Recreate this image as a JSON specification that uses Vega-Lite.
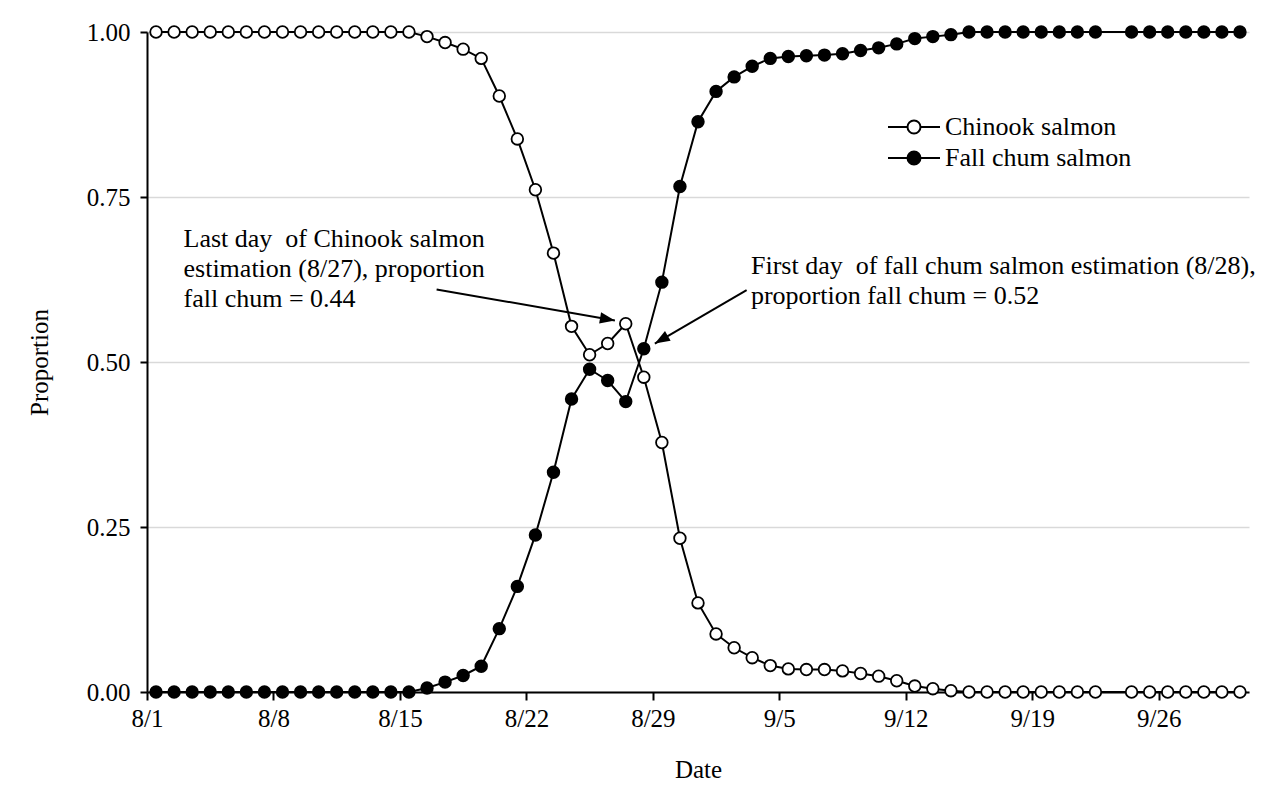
{
  "$schema": "https://vega.github.io/schema/vega-lite/v6.json",
  "width": 1102,
  "height": 660,
  "autosize": {"type": "none"},
  "padding": {"left": 147, "top": 32, "right": 32, "bottom": 117},
  "background": "white",
  "config": {
    "view": {"stroke": null},
    "font": "Liberation Serif",
    "axis": {
      "labelFont": "Liberation Serif",
      "labelFontSize": 25,
      "labelColor": "black",
      "titleFont": "Liberation Serif",
      "titleFontSize": 25,
      "titleFontWeight": "normal",
      "titleColor": "black",
      "domainColor": "black",
      "domainWidth": 2,
      "tickColor": "black",
      "tickWidth": 2
    }
  },
  "datasets": {
    "proportions": [
      {"date": "2019-08-01", "series": "Chinook salmon", "p": 1.0},
      {"date": "2019-08-02", "series": "Chinook salmon", "p": 1.0},
      {"date": "2019-08-03", "series": "Chinook salmon", "p": 1.0},
      {"date": "2019-08-04", "series": "Chinook salmon", "p": 1.0},
      {"date": "2019-08-05", "series": "Chinook salmon", "p": 1.0},
      {"date": "2019-08-06", "series": "Chinook salmon", "p": 1.0},
      {"date": "2019-08-07", "series": "Chinook salmon", "p": 1.0},
      {"date": "2019-08-08", "series": "Chinook salmon", "p": 1.0},
      {"date": "2019-08-09", "series": "Chinook salmon", "p": 1.0},
      {"date": "2019-08-10", "series": "Chinook salmon", "p": 1.0},
      {"date": "2019-08-11", "series": "Chinook salmon", "p": 1.0},
      {"date": "2019-08-12", "series": "Chinook salmon", "p": 1.0},
      {"date": "2019-08-13", "series": "Chinook salmon", "p": 1.0},
      {"date": "2019-08-14", "series": "Chinook salmon", "p": 1.0},
      {"date": "2019-08-15", "series": "Chinook salmon", "p": 1.0},
      {"date": "2019-08-16", "series": "Chinook salmon", "p": 0.993},
      {"date": "2019-08-17", "series": "Chinook salmon", "p": 0.984},
      {"date": "2019-08-18", "series": "Chinook salmon", "p": 0.974},
      {"date": "2019-08-19", "series": "Chinook salmon", "p": 0.96},
      {"date": "2019-08-20", "series": "Chinook salmon", "p": 0.903},
      {"date": "2019-08-21", "series": "Chinook salmon", "p": 0.838},
      {"date": "2019-08-22", "series": "Chinook salmon", "p": 0.761},
      {"date": "2019-08-23", "series": "Chinook salmon", "p": 0.665},
      {"date": "2019-08-24", "series": "Chinook salmon", "p": 0.554},
      {"date": "2019-08-25", "series": "Chinook salmon", "p": 0.511},
      {"date": "2019-08-26", "series": "Chinook salmon", "p": 0.528},
      {"date": "2019-08-27", "series": "Chinook salmon", "p": 0.558},
      {"date": "2019-08-28", "series": "Chinook salmon", "p": 0.477},
      {"date": "2019-08-29", "series": "Chinook salmon", "p": 0.378},
      {"date": "2019-08-30", "series": "Chinook salmon", "p": 0.233},
      {"date": "2019-08-31", "series": "Chinook salmon", "p": 0.135},
      {"date": "2019-09-01", "series": "Chinook salmon", "p": 0.088},
      {"date": "2019-09-02", "series": "Chinook salmon", "p": 0.067},
      {"date": "2019-09-03", "series": "Chinook salmon", "p": 0.052},
      {"date": "2019-09-04", "series": "Chinook salmon", "p": 0.04},
      {"date": "2019-09-05", "series": "Chinook salmon", "p": 0.035},
      {"date": "2019-09-06", "series": "Chinook salmon", "p": 0.034},
      {"date": "2019-09-07", "series": "Chinook salmon", "p": 0.034},
      {"date": "2019-09-08", "series": "Chinook salmon", "p": 0.032},
      {"date": "2019-09-09", "series": "Chinook salmon", "p": 0.028},
      {"date": "2019-09-10", "series": "Chinook salmon", "p": 0.024},
      {"date": "2019-09-11", "series": "Chinook salmon", "p": 0.017},
      {"date": "2019-09-12", "series": "Chinook salmon", "p": 0.009},
      {"date": "2019-09-13", "series": "Chinook salmon", "p": 0.005},
      {"date": "2019-09-14", "series": "Chinook salmon", "p": 0.002},
      {"date": "2019-09-15", "series": "Chinook salmon", "p": 0.0},
      {"date": "2019-09-16", "series": "Chinook salmon", "p": 0.0},
      {"date": "2019-09-17", "series": "Chinook salmon", "p": 0.0},
      {"date": "2019-09-18", "series": "Chinook salmon", "p": 0.0},
      {"date": "2019-09-19", "series": "Chinook salmon", "p": 0.0},
      {"date": "2019-09-20", "series": "Chinook salmon", "p": 0.0},
      {"date": "2019-09-21", "series": "Chinook salmon", "p": 0.0},
      {"date": "2019-09-22", "series": "Chinook salmon", "p": 0.0},
      {"date": "2019-09-24", "series": "Chinook salmon", "p": 0.0},
      {"date": "2019-09-25", "series": "Chinook salmon", "p": 0.0},
      {"date": "2019-09-26", "series": "Chinook salmon", "p": 0.0},
      {"date": "2019-09-27", "series": "Chinook salmon", "p": 0.0},
      {"date": "2019-09-28", "series": "Chinook salmon", "p": 0.0},
      {"date": "2019-09-29", "series": "Chinook salmon", "p": 0.0},
      {"date": "2019-09-30", "series": "Chinook salmon", "p": 0.0},
      {"date": "2019-08-01", "series": "Fall chum salmon", "p": 0.0},
      {"date": "2019-08-02", "series": "Fall chum salmon", "p": 0.0},
      {"date": "2019-08-03", "series": "Fall chum salmon", "p": 0.0},
      {"date": "2019-08-04", "series": "Fall chum salmon", "p": 0.0},
      {"date": "2019-08-05", "series": "Fall chum salmon", "p": 0.0},
      {"date": "2019-08-06", "series": "Fall chum salmon", "p": 0.0},
      {"date": "2019-08-07", "series": "Fall chum salmon", "p": 0.0},
      {"date": "2019-08-08", "series": "Fall chum salmon", "p": 0.0},
      {"date": "2019-08-09", "series": "Fall chum salmon", "p": 0.0},
      {"date": "2019-08-10", "series": "Fall chum salmon", "p": 0.0},
      {"date": "2019-08-11", "series": "Fall chum salmon", "p": 0.0},
      {"date": "2019-08-12", "series": "Fall chum salmon", "p": 0.0},
      {"date": "2019-08-13", "series": "Fall chum salmon", "p": 0.0},
      {"date": "2019-08-14", "series": "Fall chum salmon", "p": 0.0},
      {"date": "2019-08-15", "series": "Fall chum salmon", "p": 0.0},
      {"date": "2019-08-16", "series": "Fall chum salmon", "p": 0.006},
      {"date": "2019-08-17", "series": "Fall chum salmon", "p": 0.015},
      {"date": "2019-08-18", "series": "Fall chum salmon", "p": 0.025},
      {"date": "2019-08-19", "series": "Fall chum salmon", "p": 0.039},
      {"date": "2019-08-20", "series": "Fall chum salmon", "p": 0.096},
      {"date": "2019-08-21", "series": "Fall chum salmon", "p": 0.16},
      {"date": "2019-08-22", "series": "Fall chum salmon", "p": 0.238},
      {"date": "2019-08-23", "series": "Fall chum salmon", "p": 0.333},
      {"date": "2019-08-24", "series": "Fall chum salmon", "p": 0.444},
      {"date": "2019-08-25", "series": "Fall chum salmon", "p": 0.489},
      {"date": "2019-08-26", "series": "Fall chum salmon", "p": 0.472},
      {"date": "2019-08-27", "series": "Fall chum salmon", "p": 0.44},
      {"date": "2019-08-28", "series": "Fall chum salmon", "p": 0.52},
      {"date": "2019-08-29", "series": "Fall chum salmon", "p": 0.621},
      {"date": "2019-08-30", "series": "Fall chum salmon", "p": 0.766},
      {"date": "2019-08-31", "series": "Fall chum salmon", "p": 0.864},
      {"date": "2019-09-01", "series": "Fall chum salmon", "p": 0.91},
      {"date": "2019-09-02", "series": "Fall chum salmon", "p": 0.932},
      {"date": "2019-09-03", "series": "Fall chum salmon", "p": 0.948},
      {"date": "2019-09-04", "series": "Fall chum salmon", "p": 0.96},
      {"date": "2019-09-05", "series": "Fall chum salmon", "p": 0.963},
      {"date": "2019-09-06", "series": "Fall chum salmon", "p": 0.964},
      {"date": "2019-09-07", "series": "Fall chum salmon", "p": 0.965},
      {"date": "2019-09-08", "series": "Fall chum salmon", "p": 0.967},
      {"date": "2019-09-09", "series": "Fall chum salmon", "p": 0.972},
      {"date": "2019-09-10", "series": "Fall chum salmon", "p": 0.976},
      {"date": "2019-09-11", "series": "Fall chum salmon", "p": 0.982},
      {"date": "2019-09-12", "series": "Fall chum salmon", "p": 0.99},
      {"date": "2019-09-13", "series": "Fall chum salmon", "p": 0.993},
      {"date": "2019-09-14", "series": "Fall chum salmon", "p": 0.996},
      {"date": "2019-09-15", "series": "Fall chum salmon", "p": 1.0},
      {"date": "2019-09-16", "series": "Fall chum salmon", "p": 1.0},
      {"date": "2019-09-17", "series": "Fall chum salmon", "p": 1.0},
      {"date": "2019-09-18", "series": "Fall chum salmon", "p": 1.0},
      {"date": "2019-09-19", "series": "Fall chum salmon", "p": 1.0},
      {"date": "2019-09-20", "series": "Fall chum salmon", "p": 1.0},
      {"date": "2019-09-21", "series": "Fall chum salmon", "p": 1.0},
      {"date": "2019-09-22", "series": "Fall chum salmon", "p": 1.0},
      {"date": "2019-09-24", "series": "Fall chum salmon", "p": 1.0},
      {"date": "2019-09-25", "series": "Fall chum salmon", "p": 1.0},
      {"date": "2019-09-26", "series": "Fall chum salmon", "p": 1.0},
      {"date": "2019-09-27", "series": "Fall chum salmon", "p": 1.0},
      {"date": "2019-09-28", "series": "Fall chum salmon", "p": 1.0},
      {"date": "2019-09-29", "series": "Fall chum salmon", "p": 1.0},
      {"date": "2019-09-30", "series": "Fall chum salmon", "p": 1.0}
    ]
  },
  "encoding": {
    "x": {
      "field": "date",
      "type": "temporal",
      "title": "Date",
      "scale": {
        "type": "utc",
        "domain": [
          {"year": 2019, "month": 7, "date": 31, "hours": 12, "utc": true},
          {"year": 2019, "month": 9, "date": 30, "hours": 12, "utc": true}
        ]
      },
      "axis": {
        "values": [
          {"year": 2019, "month": 8, "date": 1, "utc": true},
          {"year": 2019, "month": 8, "date": 8, "utc": true},
          {"year": 2019, "month": 8, "date": 15, "utc": true},
          {"year": 2019, "month": 8, "date": 22, "utc": true},
          {"year": 2019, "month": 8, "date": 29, "utc": true},
          {"year": 2019, "month": 9, "date": 5, "utc": true},
          {"year": 2019, "month": 9, "date": 12, "utc": true},
          {"year": 2019, "month": 9, "date": 19, "utc": true},
          {"year": 2019, "month": 9, "date": 26, "utc": true}
        ],
        "format": "%-m/%-d",
        "grid": false,
        "tickSize": 8,
        "tickOffset": -9,
        "labelPadding": 6,
        "labelFlush": false,
        "labelOverlap": false,
        "titlePadding": 26
      }
    },
    "y": {
      "field": "p",
      "type": "quantitative",
      "title": "Proportion",
      "scale": {"domain": [0, 1], "nice": false, "zero": true},
      "axis": {
        "values": [0, 0.25, 0.5, 0.75, 1],
        "format": ".2f",
        "grid": true,
        "gridColor": "#d9d9d9",
        "gridWidth": 1.5,
        "tickSize": 7,
        "labelPadding": 10,
        "titlePadding": 34
      }
    }
  },
  "layer": [
    {
      "data": {"name": "proportions"},
      "mark": {"type": "line", "color": "black", "strokeWidth": 2},
      "encoding": {"detail": {"field": "series", "type": "nominal"}}
    },
    {
      "data": {"name": "proportions"},
      "mark": {"type": "point", "filled": true, "stroke": "black", "strokeWidth": 1.8, "size": 135, "opacity": 1},
      "encoding": {
        "fill": {
          "field": "series",
          "type": "nominal",
          "scale": {"domain": ["Chinook salmon", "Fall chum salmon"], "range": ["white", "black"]},
          "legend": {
            "title": null,
            "orient": "none",
            "legendX": 754,
            "legendY": 82,
            "symbolType": "M -4 0 L -1 0 M 1 0 L 4 0 M 1 0 A 1 1 0 1 1 -1 0 A 1 1 0 1 1 1 0 Z",
            "symbolSize": 169,
            "symbolStrokeColor": "black",
            "symbolStrokeWidth": 2,
            "symbolOpacity": 1,
            "labelFont": "Liberation Serif",
            "labelFontSize": 26,
            "labelColor": "black",
            "labelOffset": 18,
            "labelLimit": 400,
            "rowPadding": 5
          }
        }
      }
    },
    {
      "data": {"values": [
        {"date": "2019-08-16T12:45:00Z", "p": 0.61, "date2": "2019-08-26T09:35:00Z", "p2": 0.563},
        {"date": "2019-09-02T16:35:00Z", "p": 0.609, "date2": "2019-08-28T14:40:00Z", "p2": 0.528}
      ]},
      "mark": {"type": "rule", "color": "black", "strokeWidth": 2},
      "encoding": {
        "x2": {"field": "date2"},
        "y2": {"field": "p2"}
      }
    },
    {
      "data": {"values": [{"date": "2019-08-26T09:35:00Z", "p": 0.563}]},
      "mark": {"type": "point", "shape": "M 0 0 L -2 -0.75 L -2 0.75 Z", "filled": true, "color": "black", "opacity": 1, "size": 225, "angle": 9.9},
      "encoding": {}
    },
    {
      "data": {"values": [{"date": "2019-08-28T14:40:00Z", "p": 0.528}]},
      "mark": {"type": "point", "shape": "M 0 0 L -2 -0.75 L -2 0.75 Z", "filled": true, "color": "black", "opacity": 1, "size": 225, "angle": 149.8},
      "encoding": {}
    },
    {
      "data": {"values": [
        {"date": "2019-08-02T12:30:00Z", "p": 0.675, "note": "Last day\u00a0 of Chinook salmon\nestimation (8/27), proportion\nfall chum = 0.44"},
        {"date": "2019-09-02T22:20:00Z", "p": 0.633, "note": "First day\u00a0 of fall chum salmon estimation (8/28),\nproportion fall chum = 0.52"}
      ]},
      "mark": {"type": "text", "align": "left", "baseline": "alphabetic", "font": "Liberation Serif", "fontSize": 26, "lineHeight": 30, "lineBreak": "\n", "color": "black"},
      "encoding": {"text": {"field": "note", "type": "nominal"}}
    }
  ]
}
